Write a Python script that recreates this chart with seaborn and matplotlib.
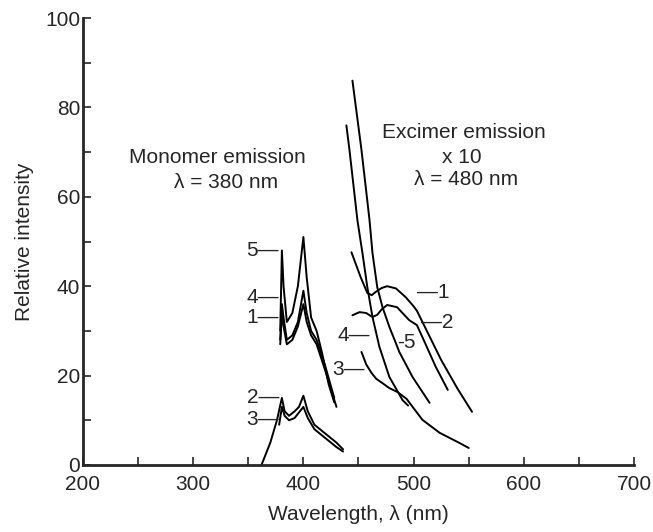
import pandas as pd
import matplotlib.pyplot as plt
from matplotlib.ticker import MultipleLocator
import seaborn as sns

# ---- data (wavelength nm, relative intensity) ----
# monomer emission curves
mono_5_x = [379, 380.5, 382, 385, 390, 395, 400, 403, 407, 412, 417, 423, 428]
mono_5_y = [30, 48, 40, 32, 34, 40, 51, 42, 33, 30, 25, 18, 14]
mono_4_x = [379, 380.5, 382, 385, 390, 395, 400, 403, 407, 412, 420, 428]
mono_4_y = [28, 36, 33, 28, 29, 32, 39, 34, 30, 28, 22, 15]
mono_1_x = [379, 380.5, 382, 385, 390, 395, 400, 403, 407, 412, 420, 430]
mono_1_y = [27, 34, 31, 27, 28, 31, 36, 32, 29, 27, 21, 13]
mono_2_x = [362, 370, 376, 380.5, 383, 387, 392, 396, 400, 404, 410, 420, 430, 436]
mono_2_y = [0, 5, 10, 15, 12, 11, 12, 13, 15.5, 12, 9, 7, 5, 3.5]
mono_3_x = [378, 380.5, 383, 387, 392, 400, 404, 410, 420, 430, 436]
mono_3_y = [9, 13, 11, 10, 10.5, 13, 10.5, 8, 6, 4, 3]

# excimer emission curves (x 10)
exc_1_x = [443.6, 452, 458, 462, 466, 471, 476, 484, 493, 500, 503, 513, 525, 540, 553]
exc_1_y = [47.6, 42, 38.5, 38.0, 38.8, 39.6, 40.0, 39.5, 37.5, 35.5, 34.5, 29.5, 23.5, 17, 11.9]
exc_2_x = [444.5, 451, 457, 462.7, 467, 471, 476, 485, 496, 503, 510, 520, 531]
exc_2_y = [33.5, 34.2, 34.0, 33.1, 33.6, 34.8, 35.8, 35.3, 32.4, 31.3, 27.5, 22, 16.8]
exc_3_x = [452.7, 457, 461.8, 466, 471.8, 478, 485.5, 493.6, 508, 523.6, 541.8, 550]
exc_3_y = [25.3, 22.5, 20.6, 19.3, 18.3, 17.2, 16.3, 14.8, 10.1, 7.2, 4.9, 3.8]
exc_4_x = [439, 441.8, 449, 453.6, 458, 462.7, 469, 478, 490, 495]
exc_4_y = [76, 70.5, 54.8, 47.4, 39.8, 33.1, 26.4, 19.7, 14.5, 13.3]
exc_5_x = [444.5, 452.7, 460, 462.7, 467, 471.8, 478, 482.7, 487, 499, 514.5]
exc_5_y = [86, 70.5, 54.8, 47.4, 39.8, 35.3, 30.9, 28.0, 25.3, 19.7, 13.9]

curves = {
    "m5": (mono_5_x, mono_5_y), "m4": (mono_4_x, mono_4_y), "m1": (mono_1_x, mono_1_y),
    "m2": (mono_2_x, mono_2_y), "m3": (mono_3_x, mono_3_y),
    "e1": (exc_1_x, exc_1_y), "e2": (exc_2_x, exc_2_y), "e3": (exc_3_x, exc_3_y),
    "e4": (exc_4_x, exc_4_y), "e5": (exc_5_x, exc_5_y),
}
df = pd.concat(
    [pd.DataFrame({"wl": xs, "I": ys, "curve": k}) for k, (xs, ys) in curves.items()],
    ignore_index=True,
)

sns.set_style("ticks")
plt.rcParams["font.family"] = ["Liberation Sans", "DejaVu Sans"]

fig = plt.figure(figsize=(6.53, 5.32), dpi=100)
ax = fig.add_axes([0.127, 0.126, 0.844, 0.840])

sns.lineplot(data=df, x="wl", y="I", units="curve", estimator=None, sort=False,
             color="black", linewidth=1.4, ax=ax)

ax.set_xlim(200, 700)
ax.set_ylim(0, 100)
ax.xaxis.set_major_locator(MultipleLocator(100))
ax.xaxis.set_minor_locator(MultipleLocator(50))
ax.yaxis.set_major_locator(MultipleLocator(20))
ax.yaxis.set_minor_locator(MultipleLocator(10))
ax.tick_params(which="both", direction="in", width=1.2, length=6, labelsize=15)
ax.tick_params(axis="x", pad=7)
ax.tick_params(axis="y", pad=2)
sns.despine(ax=ax)
for s in ("left", "bottom"):
    ax.spines[s].set_linewidth(2)

ax.set_xlabel("Wavelength, λ (nm)", fontsize=15, labelpad=8)
ax.set_ylabel("Relative intensity", fontsize=15, labelpad=8)

# text annotations
fs = 15
ax.text(322, 68.9, "Monomer emission", ha="center", va="center", fontsize=fs)
ax.text(330, 63.3, "λ = 380 nm", ha="center", va="center", fontsize=fs)
ax.text(546, 74.5, "Excimer emission", ha="center", va="center", fontsize=fs)
ax.text(544, 68.9, "x 10", ha="center", va="center", fontsize=fs)
ax.text(548, 63.8, "λ = 480 nm", ha="center", va="center", fontsize=fs)

for lab, y in [("5", 48), ("4", 37.5), ("1", 33), ("2", 15), ("3", 10.2)]:
    ax.text(378, y, lab + "—", ha="right", va="center", fontsize=fs)
ax.text(503, 38.7, "—1", ha="left", va="center", fontsize=fs)
ax.text(507, 31.8, "—2", ha="left", va="center", fontsize=fs)
ax.text(460, 29, "4—", ha="right", va="center", fontsize=fs)
ax.text(485, 27.3, "-5", ha="left", va="center", fontsize=fs)
ax.text(455.5, 21.3, "3—", ha="right", va="center", fontsize=fs)

fig.savefig("out.png", dpi=100)
